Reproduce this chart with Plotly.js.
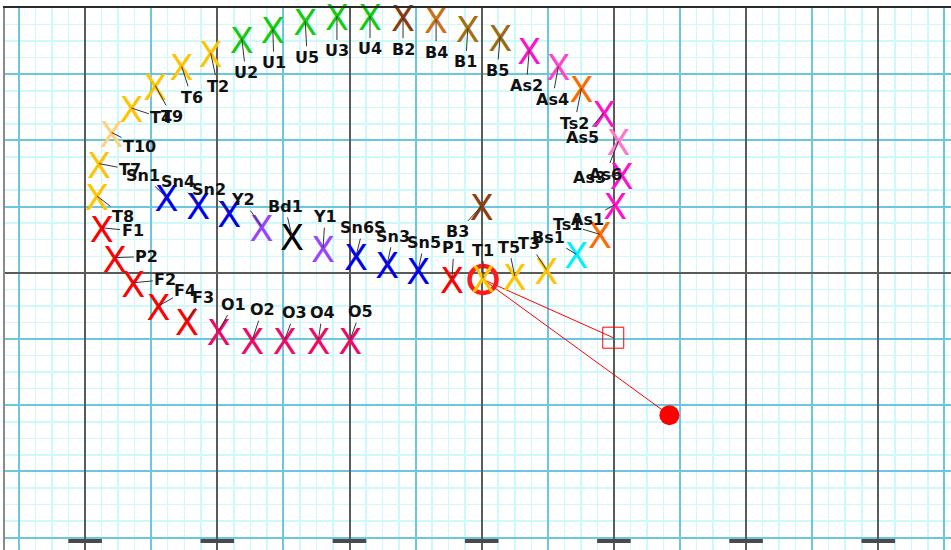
<!DOCTYPE html>
<html>
<head>
<meta charset="utf-8">
<script src="https://cdn.plot.ly/plotly-3.0.1.min.js"></script>
<style>html,body{margin:0;padding:0;background:#fff;}#chart{width:951px;height:550px;}</style>
</head>
<body>
<div id="chart"></div>
<script>
// ---- data ----
const labels = ["T10","T7","T4","T9","T6","T2","U2","U1","U5","U3","U4","B2","B4","B1","B5","As2","As4","Ts2","As5","As6","As3","As1","Ts1","Bs1","T3","T5","T1","P1","B3","Sn5","Sn3","Sn6S","Y1","Bd1","Y2","Sn2","Sn4","Sn1","T8","F1","P2","F2","F4","F3","O1","O2","O3","O4","O5"];
const xs = [-5.60,-5.79,-5.30,-4.94,-4.54,-4.10,-3.63,-3.16,-2.67,-2.19,-1.69,-1.19,-0.69,-0.21,0.28,0.72,1.16,1.51,1.85,2.07,2.12,2.02,1.79,1.43,0.98,0.50,0.02,-0.45,0.00,-0.96,-1.43,-1.90,-2.40,-2.87,-3.33,-3.82,-4.29,-4.77,-5.82,-5.75,-5.55,-5.27,-4.89,-4.46,-3.98,-3.47,-2.98,-2.47,-1.99];
const ys = [2.12,1.65,2.49,2.83,3.12,3.32,3.54,3.69,3.80,3.88,3.88,3.86,3.83,3.70,3.57,3.37,3.12,2.79,2.42,1.99,1.48,1.03,0.58,0.28,0.05,-0.05,-0.08,-0.09,1.01,0.05,0.13,0.26,0.38,0.55,0.70,0.91,1.03,1.14,1.16,0.68,0.23,-0.15,-0.50,-0.73,-0.88,-1.01,-1.01,-1.01,-1.01];
const selX = [0.02], selY = [-0.10];
const boxX = [1.99], boxY = [-0.98];
const dotX = [2.84], dotY = [-2.15];
const tickX = [-6,-4,-2,0,2,4,6];

// ---- styles ----
const pointColors = ["#ffd27f","#ffc400","#ffc400","#ffc400","#ffc400","#ffc400","#11cc11","#11cc11","#11cc11","#11cc11","#11cc11","#8b3a0a","#cc6f10","#a07012","#9c6a14","#ff11cc","#ff44cc","#ff6a00","#ff11cc","#ff77cc","#ff11cc","#ff11cc","#ff6a00","#00f0ff","#ffc400","#ffc400","#ffc400","#ff0000","#8b4010","#0000ee","#0000ee","#0000ee","#9944ff","#000000","#9944ff","#0000ee","#0000ee","#0000ee","#ffc400","#ff0000","#ff0000","#ff0000","#ff0000","#ff0000","#ee0a6a","#ee0a6a","#ee0a6a","#ee0a6a","#ee0a6a"];
const labelDX = [28,31,30,17,10,7,4,1,2,0,0,0,0,-2,-3,-3,-6,-7,-21,-13,-32,-28,-33,-28,-17,-6,0,2,-24,6,6,7,2,-7,-19,-20,-20,-23,26,31,32,32,27,16,15,10,10,4,10];
const labelDY = [14,6,10,31,31,33,34,34,36,35,33,32,33,34,34,36,33,35,25,33,3,15,-10,-17,-26,-29,-28,-31,26,-27,-28,-28,-31,-30,-27,-23,-23,-22,20,3,-1,-3,-15,-24,-27,-30,-27,-27,-28];

const yRange = [-4.187, 4.0];
const glyphShift = 0.08; // centres the "X" glyph vertically on its point

const traces = [
  {type:'scatter', mode:'text', x: xs, y: ys, yaxis:'y2', text: xs.map(()=> 'X'),
   textposition:'middle center', cliponaxis:false,
   textfont:{family:'DejaVu Sans', size:35, color: pointColors}, hoverinfo:'skip'},
  {type:'scatter', mode:'lines', x:[selX[0], boxX[0], null, selX[0], dotX[0]], y:[selY[0], boxY[0], null, selY[0], dotY[0]],
   line:{color:'#ff0000', width:1}, hoverinfo:'skip'},
  {type:'scatter', mode:'markers', x: selX, y: selY,
   marker:{symbol:'circle-open', size:27, color:'#ff1a1a', line:{width:4.5, color:'#ff1a1a'}}},
  {type:'scatter', mode:'markers', x: boxX, y: boxY,
   marker:{symbol:'square-open', size:21, color:'#ff0000', line:{width:1, color:'#ff0000'}}},
  {type:'scatter', mode:'markers', x: dotX, y: dotY,
   marker:{symbol:'circle', size:20, color:'#ff0000'}},
  {type:'scatter', mode:'markers', xaxis:'x2', x: tickX, y: tickX.map(()=> -4.05),
   marker:{symbol:'line-ew', size:24, line:{width:4, color:'#4a4a4a'}}, hoverinfo:'skip'}
];

const annotations = labels.map((t,i)=>({
  x: xs[i], y: ys[i], text: t, showarrow:true, arrowhead:0, arrowwidth:1, arrowcolor:'#333',
  ax: labelDX[i], ay: labelDY[i], standoff:0, startstandoff:0,
  font:{family:'DejaVu Sans', size:16, weight:'bold', color:'#111'}
}));

const blue = '#6cc7dc', minor = '#cdf9fa', dark = '#5a5a5a';
const layout = {
  width:951, height:550,
  margin:{l:5, r:0, t:8, b:0, pad:0},
  paper_bgcolor:'#ffffff', plot_bgcolor:'#ffffff',
  showlegend:false,
  xaxis:{range:[-7.212, 7.10], dtick:1, tick0:0, showgrid:true, gridcolor:blue, gridwidth:2,
    minor:{dtick:0.25, tick0:0, showgrid:true, gridcolor:minor, gridwidth:1.5},
    zeroline:false, showticklabels:false, ticks:'', side:'top',
    showline:true, linecolor:'#2a2a2a', linewidth:2},
  xaxis2:{overlaying:'x', range:[-7.212, 7.10], dtick:2, tick0:0, showgrid:true, gridcolor:dark, gridwidth:2,
    zeroline:false, showticklabels:false, ticks:'', showline:false},
  yaxis:{range:yRange, dtick:1, tick0:0, showgrid:true, gridcolor:blue, gridwidth:2,
    minor:{dtick:0.25, tick0:0, showgrid:true, gridcolor:minor, gridwidth:1.5},
    zeroline:true, zerolinecolor:dark, zerolinewidth:2,
    showticklabels:false, ticks:'', showline:true, linecolor:'#8a8a8a', linewidth:2},
  yaxis2:{overlaying:'y', range:[yRange[0]+glyphShift, yRange[1]+glyphShift], showgrid:false,
    zeroline:false, showticklabels:false, ticks:'', showline:false},
  annotations: annotations
};

Plotly.newPlot('chart', traces, layout, {staticPlot:true, displayModeBar:false});
</script>
</body>
</html>
